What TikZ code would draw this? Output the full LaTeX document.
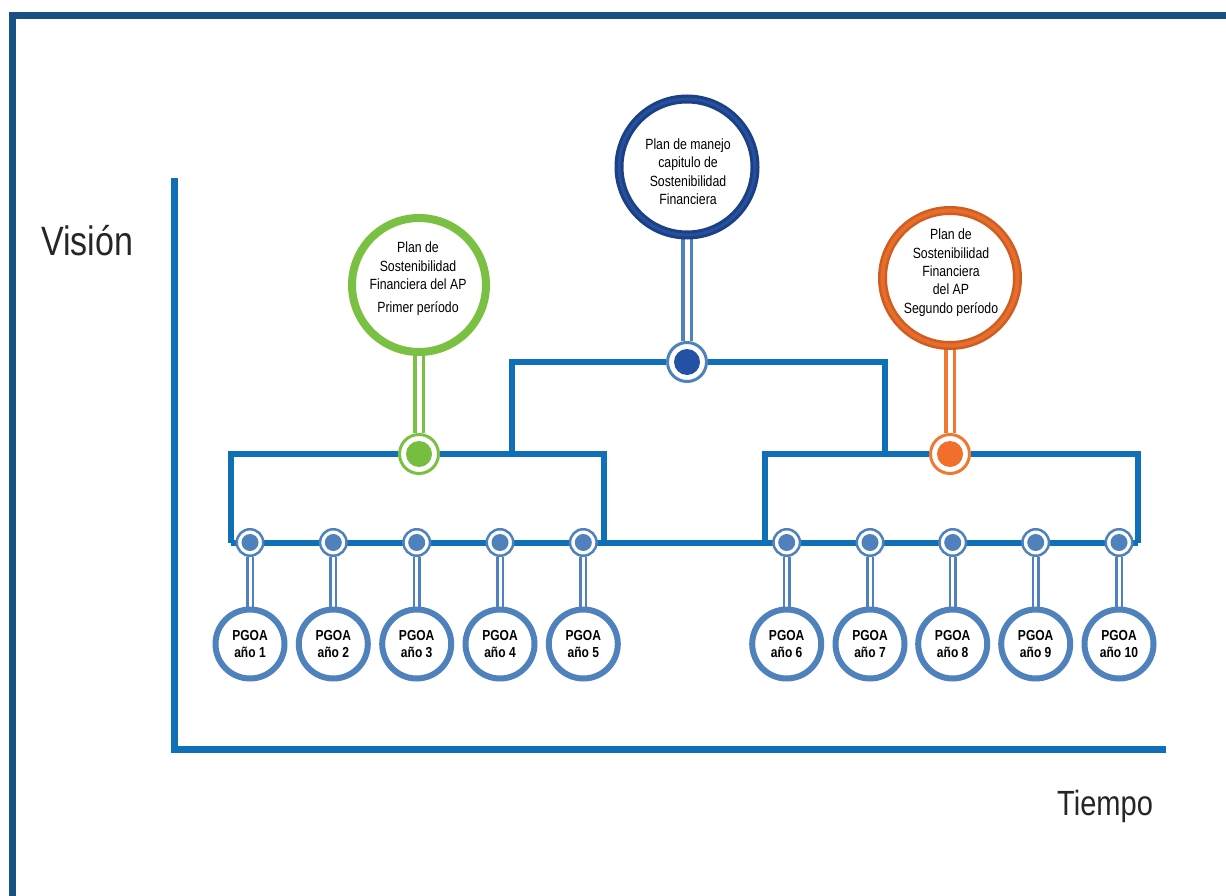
\documentclass[tikz,border=0pt]{standalone}
\usepackage{fontspec}
\setmainfont{Liberation Sans}[FakeStretch=0.83]
\usetikzlibrary{backgrounds}
\definecolor{frameblue}{HTML}{1A5185}
\definecolor{barblue}{HTML}{0F70B7}
\definecolor{lightblue}{HTML}{4F81BD}
\definecolor{topdark}{HTML}{1C3F85}
\definecolor{toplight}{HTML}{24519E}
\definecolor{topinner}{HTML}{2351A4}
\definecolor{greenc}{HTML}{7AC143}
\definecolor{greeninner}{HTML}{77BD40}
\definecolor{orangedark}{HTML}{CF5C20}
\definecolor{orangelight}{HTML}{E66D2C}
\definecolor{orangestem}{HTML}{F07830}
\definecolor{orangeinner}{HTML}{F26E2B}
\begin{document}
\begin{tikzpicture}[x=1pt,y=-1pt,
  bigring/.style={circle, fill=white, inner sep=0pt},
  plancirc/.style={bigring, draw=topdark, double=toplight, double distance=3pt, line width=3pt, minimum size=136pt},
  greencirc/.style={bigring, draw=greenc, line width=8pt, minimum size=134pt},
  orangecirc/.style={bigring, draw=orangedark, double=orangelight, double distance=4pt, line width=2.5pt, minimum size=135pt},
  hub/.style 2 args={circle, draw=#1, line width=3pt, fill=white, inner sep=0pt, minimum size=39pt,
     path picture={\fill[#2] (path picture bounding box.center) circle (13pt);}},
  small/.style={circle, draw=lightblue, line width=2.5pt, fill=white, inner sep=0pt, minimum size=26.5pt,
     path picture={\fill[lightblue] (path picture bounding box.center) circle (8.5pt);}},
  pgoa/.style={circle, draw=lightblue, line width=6pt, fill=white, inner sep=0pt, minimum size=69pt,
     align=center, font=\bfseries\fontsize{14.5}{17}\selectfont},
  txt/.style={align=center, inner sep=0pt, font=\fontsize{14.8}{18.3}\selectfont},
  bigtxt/.style={inner sep=0pt, anchor=base west, text=black!85},
  stem/.style={draw=#1, line width=3.5pt, double=white, double distance=5pt},
  sstem/.style={draw=lightblue, line width=2.5pt, double=white, double distance=3pt},
  bar/.style={draw=barblue, line width=6pt, line join=miter},
  axis/.style={draw=barblue, line width=7pt, line join=miter},
  frame/.style={draw=frameblue, line width=7pt, line join=miter}]
\useasboundingbox (0,0) rectangle (1226,896);

% frame
\coordinate (f1) at (12.5,896);
\coordinate (f2) at (12.5,15.5);
\coordinate (f3) at (1226,15.5);
\draw[frame] (f1) -- (f2) -- (f3);

% axes
\coordinate (a1) at (174,178);
\coordinate (a2) at (174,749);
\coordinate (a3) at (1166,749);
\draw[axis] (a1) -- (a2) -- (a3);
\node[bigtxt, font=\fontsize{41}{45}\selectfont] (vision) at (41,255) {Visión};
\node[bigtxt, font=\fontsize{35}{40}\selectfont] (tiempo) at (1057,815) {Tiempo};

% big circles
\node[plancirc] (plan) at (687,167) {};
\node[txt] (plantext) at (688,171.6) {Plan de manejo\\capitulo de\\Sostenibilidad\\Financiera};
\node[greencirc] (green) at (419,285) {};
\node[txt] (greentext) at (418,278.6) {Plan de\\Sostenibilidad\\Financiera del AP\\[4.4pt]Primer período};
\node[orangecirc] (orange) at (950,278) {};
\node[txt] (orangetext) at (951,272.7) {Plan de\\Sostenibilidad\\Financiera\\del AP\\Segundo período};

% hubs
\node[hub={lightblue}{topinner}] (thub) at (687,362) {};
\node[hub={greenc}{greeninner}] (ghub) at (419,454) {};
\node[hub={orangestem}{orangeinner}] (ohub) at (950,454) {};

% bracket corners
\coordinate (tl) at (512,454);
\coordinate (tr) at (885,454);
\coordinate (ll) at (231,542.5);
\coordinate (lr) at (604,542.5);
\coordinate (rl) at (765,542.5);
\coordinate (rr) at (1138,542.5);

% small nodes and PGOA circles
\foreach \i/\x in {1/250,2/333.3,3/416.7,4/500,5/583.3,6/786.7,7/870,8/952.7,9/1035.7,10/1119}{
  \node[small] (s\i) at (\x,542.5) {};
  \node[pgoa] (p\i) at (\x,644) {PGOA\\año \i};
}

\begin{scope}[on background layer]
  \draw[bar] (tl) |- (thub) -| (tr);
  \draw[bar] (ll) |- (ghub) -| (lr);
  \draw[bar] (rl) |- (ohub) -| (rr);
  \draw[bar] (ll) -- (rr);
  \draw[stem=lightblue] (plan.south) -- (thub.north);
  \draw[stem=greenc] (green.south) -- (ghub.north);
  \draw[stem=orangestem] (orange.south) -- (ohub.north);
  \foreach \i in {1,...,10}{
    \draw[sstem] (s\i.south) -- (p\i.north);
  }
\end{scope}
\end{tikzpicture}
\end{document}
